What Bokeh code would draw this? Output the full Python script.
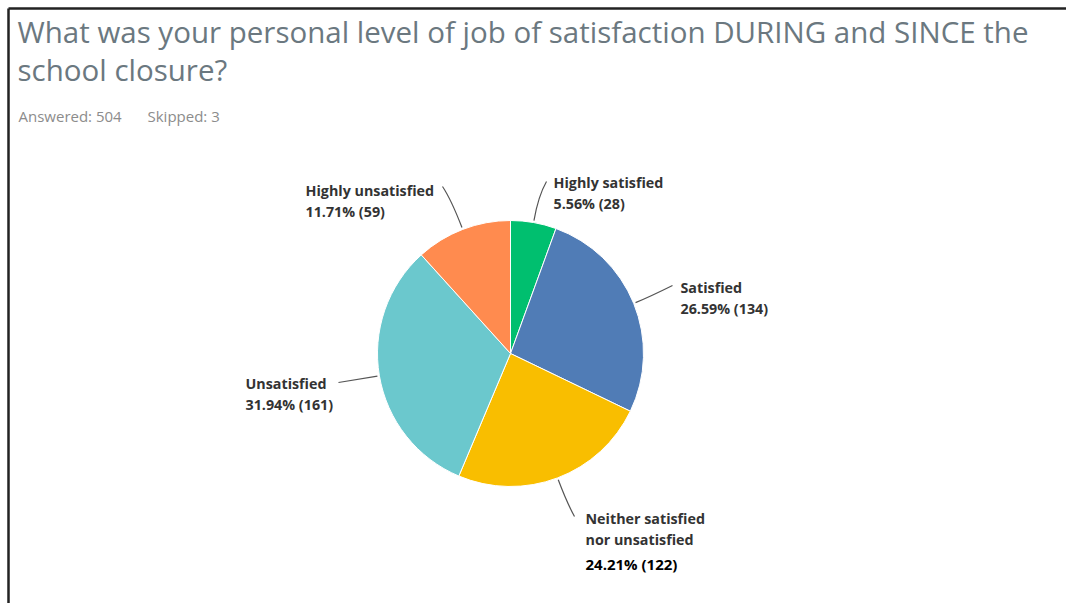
import math
from bokeh.plotting import figure
from bokeh.models import Range1d
from bokeh.core.properties import value
from bokeh.embed import file_html
from bokeh.resources import INLINE

# ---- data ----
categories = ["Highly satisfied", "Satisfied", "Neither satisfied nor unsatisfied",
              "Unsatisfied", "Highly unsatisfied"]
label_lines = [["Highly satisfied"], ["Satisfied"], ["Neither satisfied", "nor unsatisfied"],
               ["Unsatisfied"], ["Highly unsatisfied"]]
counts = [28, 134, 122, 161, 59]
percents = [5.56, 26.59, 24.21, 31.94, 11.71]
colors = ["#00BF6F", "#507CB6", "#F9BE00", "#6BC8CD", "#FF8B4F"]
answered = 504
skipped = 3
title_lines = ["What was your personal level of job of satisfaction DURING and SINCE the",
               "school closure?"]

W, H = 1066, 603
Y = lambda y: H - y  # layout helper (image px -> plot coords)

p = figure(width=W, height=H, x_range=Range1d(0, W), y_range=Range1d(0, H),
           output_backend="svg", toolbar_location=None, min_border=0)
p.axis.visible = False
p.grid.visible = False
p.outline_line_color = None
p.background_fill_color = "white"
p.border_fill_color = "white"

# frame border (top + left)
p.segment(x0=[8, 8], y0=[Y(8), Y(8)], x1=[W, 8], y1=[Y(8), 0], line_color="#222222", line_width=2.5)

# title
FONT = value("Open Sans")
p.text(x=[17, 17], y=[Y(31), Y(69)], text=title_lines, text_font=FONT, text_font_size="29.5px",
       text_color="#6b7880", text_baseline="middle")
p.text(x=[18, 147], y=[Y(115), Y(115)], text=[f"Answered: {answered}", f"Skipped: {skipped}"],
       text_font=FONT, text_font_size="15px", text_color="#8c8c8c", text_baseline="middle")

# pie
cx, cy, R = 510, Y(353), 133
total = sum(counts)
starts, ends, mids = [], [], []
cum = 0
for c in counts:
    a0 = math.pi / 2 - 2 * math.pi * cum / total
    cum += c
    a1 = math.pi / 2 - 2 * math.pi * cum / total
    starts.append(a0); ends.append(a1); mids.append((a0 + a1) / 2)
p.wedge(x=[cx] * len(counts), y=[cy] * len(counts), radius=R, radius_units="screen",
        start_angle=starts, end_angle=ends, direction="clock",
        fill_color=colors, line_color="white", line_width=1)

# leader lines + labels (label anchor positions are layout)
label_pos = [(553, 182), (680, 287), (585, 518), (245, 383), (305, 190)]
line_end = [(546, 181), (672, 285), (574, 516), (338, 382), (442, 186)]
elbow_r = [160, 150, 160, 150, 165]
for i in range(len(counts)):
    a = mids[i]
    x0 = cx + (R + 2) * math.cos(a); y0 = cy + (R + 2) * math.sin(a)
    xc = cx + elbow_r[i] * math.cos(a); yc = cy + elbow_r[i] * math.sin(a)
    ex, ey = line_end[i]
    p.quadratic(x0=[x0], y0=[y0], x1=[ex], y1=[Y(ey)], cx=[xc], cy=[yc],
                line_color="#555555", line_width=1.2)
    lx, ly = label_pos[i]
    lines = label_lines[i]
    p.text(x=[lx] * len(lines), y=[Y(ly + 21 * k) for k in range(len(lines))], text=lines,
           text_font=FONT, text_font_size="14.3px", text_font_style="bold",
           text_color="#333333", text_baseline="middle")
    pct_txt = f"{percents[i]:.2f}% ({counts[i]})"
    if i == 2:
        p.text(x=[lx], y=[Y(ly + 21 * len(lines) + 3)], text=[pct_txt], text_font=FONT,
               text_font_size="15px", text_font_style="bold", text_color="#000000",
               text_baseline="middle")
    else:
        p.text(x=[lx], y=[Y(ly + 21 * len(lines))], text=[pct_txt], text_font=FONT,
               text_font_size="14.3px", text_font_style="bold", text_color="#333333",
               text_baseline="middle")

open("out.html", "w").write(file_html(p, INLINE))
